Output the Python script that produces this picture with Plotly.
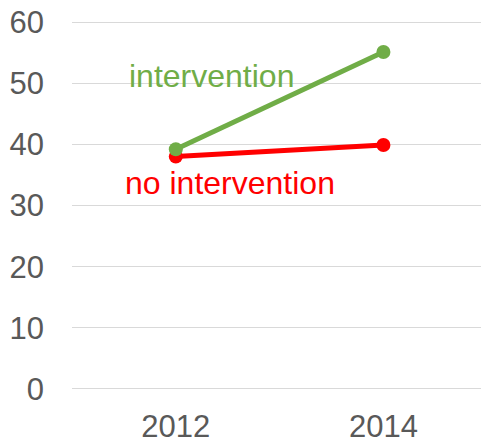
import plotly.graph_objects as go

years = ["2012", "2014"]
intervention = [39.2, 55.1]
no_intervention = [38.0, 39.9]
y_ticks = [0, 10, 20, 30, 40, 50, 60]

GREEN = "#70AD47"
RED = "#FF0000"

fig = go.Figure()
fig.add_trace(go.Scatter(x=[0, 1], y=no_intervention, mode="lines+markers",
                         line=dict(color=RED, width=5), marker=dict(size=14, color=RED),
                         showlegend=False))
fig.add_trace(go.Scatter(x=[0, 1], y=intervention, mode="lines+markers",
                         line=dict(color=GREEN, width=5), marker=dict(size=14, color=GREEN),
                         showlegend=False))

fig.add_annotation(x=0.17, y=51.1, text="intervention", showarrow=False,
                   font=dict(family="Liberation Sans, Arial", size=32, color=GREEN))
fig.add_annotation(x=0.263, y=33.6, text="no intervention", showarrow=False,
                   font=dict(family="Liberation Sans, Arial", size=32, color=RED))

fig.update_layout(
    width=481, height=443,
    margin=dict(l=72, r=0, t=19, b=51),
    plot_bgcolor="white", paper_bgcolor="white",
    font=dict(family="Liberation Sans, Arial", size=31, color="#595959"),
    xaxis=dict(range=[-0.5, 1.47], tickvals=[0, 1], ticktext=years, automargin=False,
               showgrid=False, zeroline=False, showline=False, ticks="",
               ticklabelstandoff=13),
    yaxis=dict(range=[-0.5, 60.5], tickvals=y_ticks, showgrid=True, automargin=False,
               gridcolor="#D9D9D9", gridwidth=1, zeroline=False, showline=False, ticks="",
               ticklabelstandoff=27),
)

fig.write_html("out.html", config={"displayModeBar": False},
               post_script="document.body.style.margin='0';")
